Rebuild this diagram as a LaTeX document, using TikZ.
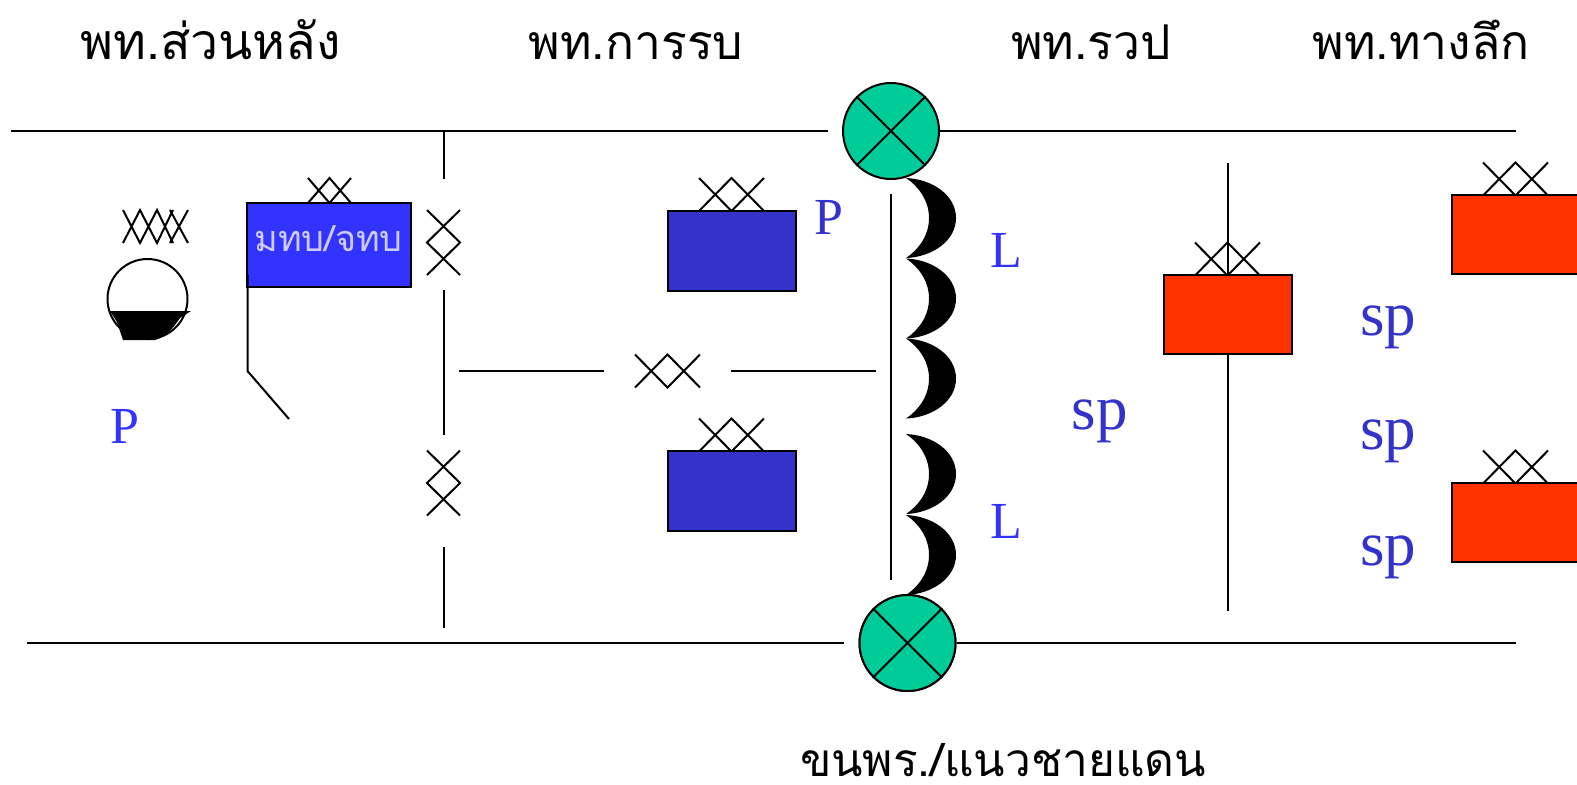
\documentclass[tikz,border=0pt]{standalone}
\usepackage{fontspec}
\setmainfont{Liberation Serif}
\newfontfamily\thaifont[Script=Thai]{Loma}
\definecolor{brightblue}{HTML}{3333FF}
\definecolor{deepblue}{HTML}{3333CC}
\definecolor{redbox}{HTML}{FF3300}
\definecolor{greenc}{HTML}{00CC99}
\definecolor{paleblue}{HTML}{CCCCFF}
\tikzset{
  ln/.style={draw=black,line width=1pt},
  boxb/.style={ln,fill=deepblue,minimum width=64pt,minimum height=40pt,inner sep=0pt},
  boxr/.style={ln,fill=redbox,minimum width=64pt,minimum height=39.5pt,inner sep=0pt},
  boxt/.style={ln,fill=brightblue},
  title/.style={font=\thaifont\fontsize{24}{24}\selectfont,anchor=base,inner sep=0pt},
  lblL/.style={font=\fontsize{26}{26}\selectfont,anchor=base,inner sep=0pt},
  lblS/.style={font=\fontsize{31.5}{31.5}\selectfont,anchor=base,inner sep=0pt,text=deepblue},
  junction/.style={ln,fill=greenc,circle,minimum size=48pt,inner sep=0pt},
  xcross/.pic={\draw[ln] (-32.5,-16.5)--(0,16.5)--(32.5,-16.5) (-32.5,16.5)--(0,-16.5)--(32.5,16.5);},
  xcrosss/.pic={\draw[ln] (-21.5,-12.5)--(0,12.5)--(21.5,-12.5) (-21.5,12.5)--(0,-12.5)--(21.5,12.5);},
  ycross/.pic={\draw[ln] (-16.5,-32.5)--(16.5,0)--(-16.5,32.5) (16.5,-32.5)--(-16.5,0)--(16.5,32.5);},
  crescent/.pic={\fill[black] (-1,0) .. controls (25,1) and (49,17) .. (49,40) .. controls (49,63) and (25,79) .. (-1,80) .. controls (11,72) and (22,58) .. (22,40) .. controls (22,22) and (11,8) .. (-1,0) -- cycle;}
}
\begin{document}
\begin{tikzpicture}[x=0.5pt,y=-0.5pt]
\useasboundingbox (0,0) rectangle (1577,784);
% coordinates
\coordinate (tl) at (11,131); \coordinate (tle) at (828,131); \coordinate (tr) at (1516,131);
\coordinate (bl) at (27,643); \coordinate (ble) at (844,643); \coordinate (br) at (1516,643);
% junctions
\node[junction] (jt) at (891,131) {};
\node[junction] (jb) at (907.5,643) {};
\draw[ln] (jt.45)--(jt.225) (jt.135)--(jt.315);
\draw[ln] (tl)--(tle) (jt.east)--(tr);
\draw[ln] (bl)--(ble) (jb.east)--(br);
% verticals and horizontal
\coordinate (v1a) at (443.5,131); \coordinate (v1b) at (443.5,179);
\coordinate (v2a) at (443.5,290); \coordinate (v2b) at (443.5,435);
\coordinate (v3a) at (443.5,547); \coordinate (v3b) at (443.5,628);
\draw[ln] (v1a)--(v1b) (v2a)--(v2b) (v3a)--(v3b);
\coordinate (h1a) at (459,371); \coordinate (h1b) at (604,371);
\coordinate (h2a) at (731,371); \coordinate (h2b) at (876,371);
\draw[ln] (h1a)--(h1b) (h2a)--(h2b);
\coordinate (mta) at (891,194); \coordinate (mtb) at (891,580);
\draw[ln] (mta)--(mtb);
\coordinate (rva) at (1227.5,163); \coordinate (rvb) at (1227.5,611);
\draw[ln] (rva)--(rvb);
% crosses
\pic at (443.5,242.5) {ycross};
\pic at (443.5,483) {ycross};
\pic at (667.5,371) {xcross};
\pic at (329.5,190.5) {xcrosss};
\pic at (731.5,194.5) {xcross};
\pic at (731.5,435) {xcross};
\pic at (1227.5,259) {xcross};
\pic at (1515.5,179) {xcross};
\pic at (1515.5,467) {xcross};
% boxes
\node[boxt,minimum width=82pt,minimum height=42pt,inner sep=0pt] (cmd) at (329,245) {};
\node[anchor=base,inner sep=0pt,text=paleblue,font=\thaifont\fontsize{18}{18}\selectfont] (cmdl) at (328.5,251) {มทบ/จทบ};
\node[boxb] (b1) at (731.5,251) {};
\node[boxb] (b2) at (731.5,491) {};
\node[boxr] (r1) at (1227.5,314.5) {};
\node[boxr] (r2) at (1515.5,234.5) {};
\node[boxr] (r3) at (1515.5,522.5) {};
% flag line
\coordinate (fa) at (247.5,275); \coordinate (fb) at (247.5,371); \coordinate (fc) at (289,419);
\draw[ln] (fa)--(fb)--(fc);
% bowl symbol
\node[ln,circle,minimum size=40pt,inner sep=0pt] (bowl) at (147.5,299) {};
\fill[black] (110,311)--(191,311)--(180,318) .. controls (172,330) and (165,337) .. (155,340)--(123,340)--(117,322)--cycle;
\draw[ln] (123,210)--(140,243)--(157,210)--(173,243) (123,243)--(140,210)--(157,243)--(173,210) (170,210)--(188,243) (170,243)--(188,210);
% coil
\pic at (907,178) {crescent};
\pic at (907,258.5) {crescent};
\pic at (907,338.5) {crescent};
\pic at (907,434) {crescent};
\pic at (907,515) {crescent};
\draw[ln,fill=greenc] (jb) circle[radius=48];
\draw[ln] (jb.45)--(jb.225) (jb.135)--(jb.315);
% labels
\node[lblL,text=brightblue] (p1) at (124.5,443) {P};
\node[lblL,text=deepblue] (p2) at (828.5,234.5) {P};
\node[lblL,text=brightblue] (l1) at (1006.5,267.5) {L};
\node[lblL,text=brightblue] (l2) at (1006.5,538.5) {L};
\node[lblS] (s1) at (1099.5,429) {sp};
\node[lblS] (s2) at (1388,335) {sp};
\node[lblS] (s3) at (1388,449) {sp};
\node[lblS] (s4) at (1388,565) {sp};
\node[title,font=\thaifont\fontsize{25}{25}\selectfont] (t1) at (210.5,59) {พท.ส่วนหลัง};
\node[title] (t2) at (636,59) {พท.การรบ};
\node[title] (t3) at (1091,59) {พท.รวป};
\node[title] (t4) at (1421,59) {พท.ทางลึก};
\node[title,font=\thaifont\fontsize{23}{23}\selectfont] (t5) at (1003,776) {ขนพร./แนวชายแดน};
\end{tikzpicture}
\end{document}
